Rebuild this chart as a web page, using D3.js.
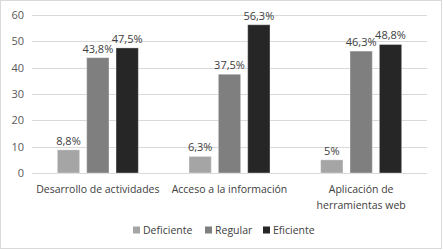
<!DOCTYPE html>
<html>
<head>
<meta charset="utf-8">
<script src="https://cdn.jsdelivr.net/npm/d3@7/dist/d3.min.js"></script>
<style>
  body { margin: 0; background: #fff; }
  text { font-family: "Open Sans", "Noto Sans", sans-serif; }
</style>
</head>
<body>
<svg id="chart" width="443" height="251"></svg>
<script>
const categories = [['Desarrollo de actividades'], ['Acceso a la información'], ['Aplicación de', 'herramientas web']];
const seriesNames = ['Deficiente', 'Regular', 'Eficiente'];
const deficiente = [8.8, 6.3, 5];
const regular = [43.8, 37.5, 46.3];
const eficiente = [47.5, 56.3, 48.8];
const yTicks = [0, 10, 20, 30, 40, 50, 60];
const colors = ['#a5a5a5', '#7f7f7f', '#262626'];

const series = [deficiente, regular, eficiente];
const fmt = v => String(v).replace('.', ',') + '%';

const svg = d3.select('#chart');
const margin = { left: 32, right: 16, top: 15, bottom: 78 };
const W = 443, H = 251;

// outer frame
svg.append('rect').attr('x', 0.5).attr('y', 0.5).attr('width', W - 2).attr('height', H - 3)
  .attr('fill', '#fff').attr('stroke', '#d9d9d9');

const x0 = d3.scaleBand().domain(d3.range(categories.length))
  .range([margin.left, W - margin.right]);
const x1 = d3.scaleBand().domain(d3.range(seriesNames.length))
  .range([0, 81]).paddingInner(0.24);
const y = d3.scaleLinear().domain([0, 60]).range([H - margin.bottom, margin.top]);

// gridlines
svg.append('g').selectAll('line').data(yTicks).join('line')
  .attr('x1', margin.left).attr('x2', W - margin.right)
  .attr('y1', d => Math.round(y(d)) + 0.5).attr('y2', d => Math.round(y(d)) + 0.5)
  .attr('stroke', '#d9d9d9').attr('stroke-width', 1);

// y labels
svg.append('g').selectAll('text').data(yTicks).join('text')
  .attr('x', 24).attr('y', d => y(d) + 4)
  .attr('text-anchor', 'end').attr('font-size', 11).attr('fill', '#595959')
  .text(d => d);

// bars
const groups = svg.append('g').selectAll('g').data(categories).join('g')
  .attr('transform', (d, i) => `translate(${x0(i) + x0.bandwidth() / 2 - 40.5},0)`);

groups.each(function(c, ci) {
  const g = d3.select(this);
  series.forEach((s, si) => {
    g.append('rect')
      .attr('x', x1(si)).attr('width', x1.bandwidth())
      .attr('y', y(s[ci])).attr('height', y(0) - y(s[ci]))
      .attr('fill', colors[si])
      .attr('stroke', 'rgba(255,255,255,0.35)').attr('stroke-width', 1);
    g.append('text')
      .attr('x', x1(si) + x1.bandwidth() / 2).attr('y', y(s[ci]) - 5)
      .attr('text-anchor', 'middle').attr('font-size', 11).attr('fill', '#404040')
      .text(fmt(s[ci]));
  });
});

// category labels
svg.append('g').selectAll('text').data(categories).join('text')
  .attr('text-anchor', 'middle').attr('font-size', 10.5).attr('fill', '#404040')
  .attr('x', (d, i) => x0(i) + x0.bandwidth() / 2).attr('y', 193)
  .each(function(lines) {
    const t = d3.select(this);
    lines.forEach((l, li) => {
      t.append('tspan').attr('x', t.attr('x')).attr('dy', li === 0 ? 0 : 16).text(l);
    });
  });

// legend
const legendX = [133, 205, 263];
const legend = svg.append('g').selectAll('g').data(seriesNames).join('g')
  .attr('transform', (d, i) => `translate(${legendX[i]},230)`);
legend.append('rect').attr('x', 0).attr('y', -3.5).attr('width', 7).attr('height', 7)
  .attr('fill', (d, i) => colors[i]);
legend.append('text').attr('x', 10).attr('y', 4).attr('font-size', 10.5).attr('fill', '#404040')
  .text(d => d);
</script>
</body>
</html>
